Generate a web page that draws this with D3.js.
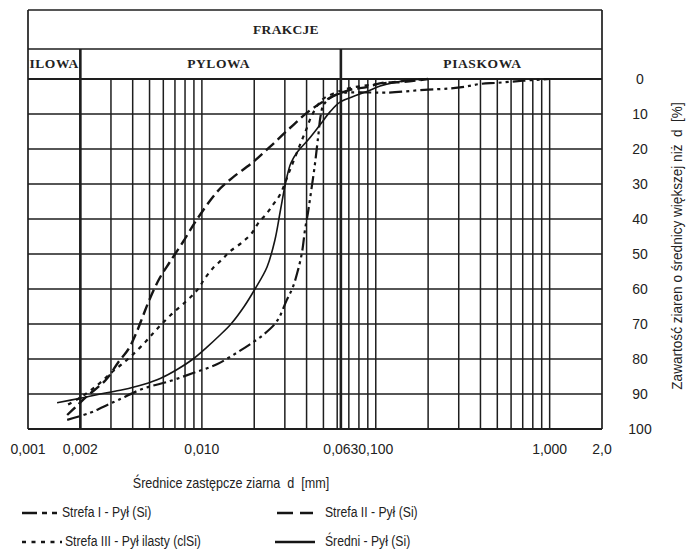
<!DOCTYPE html>
<html><head><meta charset="utf-8">
<script src="https://cdn.jsdelivr.net/npm/d3@7"></script>
<style>
html,body{margin:0;padding:0;background:#fff;}
svg{display:block;}
text{white-space:pre;}
</style></head>
<body>
<svg id="chart" width="688" height="555"></svg>
<script>
// ---------- data ----------
const fractionNames = ["ILOWA", "PYLOWA", "PIASKOWA"];
const fractionBounds = [0.001, 0.002, 0.063, 2.0];
const headerTitle = "FRAKCJE";
const xTickValues = [0.001, 0.002, 0.010, 0.063, 0.100, 1.000, 2.0];
const xTickLabels = ["0,001", "0,002", "0,010", "0,063", "0,100", "1,000", "2,0"];
const yTickValues = [0, 10, 20, 30, 40, 50, 60, 70, 80, 90, 100];
const xTitle = "Średnice zastępcze ziarna  d  [mm]";
const yTitle = "Zawartość ziaren o średnicy większej niż  d  [%]";
const seriesNames = ["Strefa I - Pył (Si)", "Strefa II - Pył (Si)", "Strefa III - Pył ilasty (clSi)", "Średni - Pył (Si)"];

const strefaI_d = [0.00168,0.00227,0.0027,0.0033,0.00458,0.00656,0.0089,0.0122,0.0166,0.0189,0.0224,0.027,0.0308,0.0334,0.0357,0.0376,0.0392,0.0408,0.0425,0.0445,0.046,0.047,0.048,0.050,0.056,0.065,0.08,0.116,0.19,0.266,0.325,0.4,0.5,0.7,1.0];
const strefaI_p = [97.4,95.4,93.7,91.7,88.5,86.3,84,81.5,77.6,75.8,73.2,69.2,63.1,59.4,54.6,49.7,43,38,32,25,19,15,11,7.5,5,4,3.8,3.9,3.1,2.7,2.2,1.4,1.1,0.5,0];

const strefaII_d = [0.00168,0.0019,0.0022,0.0028,0.0033,0.0038,0.0042,0.0046,0.005,0.0057,0.0065,0.0078,0.0094,0.0122,0.0149,0.0194,0.0246,0.0321,0.042,0.0545,0.071,0.089,0.109,0.138,0.2];
const strefaII_p = [96,93.5,90.5,86,81,77,72.5,67.5,63,57,52.5,46.5,40,32.3,28.3,24,19.4,14,8.9,5.4,3.1,2.3,1.1,0.9,0];

const strefaIII_d = [0.0017,0.002,0.0025,0.003,0.0035,0.004,0.0048,0.0055,0.0066,0.0082,0.0094,0.0104,0.0116,0.0131,0.0145,0.017,0.0194,0.021,0.0237,0.0256,0.0281,0.0321,0.0366,0.0397,0.043,0.049,0.058,0.071,0.093,0.15,0.2];
const strefaIII_p = [93,91,87.5,84,81.3,78.8,74.8,71.5,67.5,63.3,60.3,57,54,51.5,49.3,46.7,44,41.3,38.3,36,33.1,26,18.9,14.6,10.3,6,4,2.6,1.7,0.5,0];

const sredni_d = [0.00147,0.002,0.0026,0.0035,0.0046,0.0058,0.0072,0.0089,0.0107,0.0125,0.0147,0.0175,0.0202,0.0237,0.0263,0.0283,0.0305,0.0325,0.0355,0.041,0.0478,0.0545,0.0623,0.078,0.0927,0.106,0.132,0.157,0.2];
const sredni_p = [92.5,91.2,90,88.8,87.3,85.5,83,80,76.6,73.5,70,65,60,53.7,46,37.5,29,24,20.8,17.3,13.1,9.4,6.6,4.6,3.2,2,0.9,0.3,0];

// ---------- layout ----------
const W = 688, H = 555;
const left = 28, right = 602, frameTop = 10, row1 = 49, plotTop = 79, plotBottom = 429;
const ink = "#1e1e1e";
const svg = d3.select("#chart");
svg.append("rect").attr("width", W).attr("height", H).attr("fill", "#fff");

const x = d3.scaleLog().domain([0.001, 2.0]).range([left, right]);
const y = d3.scaleLinear().domain([0, 100]).range([plotTop, plotBottom]);

const g = svg.append("g");

// vertical grid (log minor lines from 0.002 to 1.0)
const vGrid = x.ticks().filter(v => v >= 0.0019 && v <= 1.0001);
g.selectAll("line.vg").data(vGrid).enter().append("line")
  .attr("x1", d => x(d)).attr("x2", d => x(d))
  .attr("y1", plotTop).attr("y2", plotBottom)
  .attr("stroke", ink).attr("stroke-width", 1.5);

// fraction boundary lines (thick)
const inner = fractionBounds.slice(1, -1);
g.selectAll("line.fb").data(inner).enter().append("line")
  .attr("x1", d => x(d)).attr("x2", d => x(d))
  .attr("y1", row1).attr("y2", plotBottom)
  .attr("stroke", ink).attr("stroke-width", 2.6);

// horizontal grid
g.selectAll("line.hg").data(yTickValues).enter().append("line")
  .attr("x1", left).attr("x2", right)
  .attr("y1", d => y(d)).attr("y2", d => y(d))
  .attr("stroke", ink).attr("stroke-width", d => (d === 0 || d === 100) ? 2.2 : 1.6);

// header lines
[frameTop, row1].forEach(yy => {
  g.append("line").attr("x1", left).attr("x2", right).attr("y1", yy).attr("y2", yy)
    .attr("stroke", ink).attr("stroke-width", 1.5);
});
g.append("line").attr("x1", left).attr("x2", left).attr("y1", frameTop).attr("y2", plotBottom)
  .attr("stroke", ink).attr("stroke-width", 1.7);
g.append("line").attr("x1", right).attr("x2", right).attr("y1", frameTop).attr("y2", plotBottom)
  .attr("stroke", ink).attr("stroke-width", 1.7);

// header texts
const serif = "'Liberation Serif','Times New Roman',serif";
svg.append("text").attr("x", 286).attr("y", (frameTop + row1) / 2 + 1)
  .attr("text-anchor", "middle").attr("dominant-baseline", "middle")
  .attr("font-family", serif).attr("font-weight", "bold").attr("font-size", 13.5)
  .attr("letter-spacing", 0.3)
  .attr("fill", "#222").text(headerTitle);
const fracDx = [0, 8, 11];
svg.selectAll("text.fr").data(fractionNames).enter().append("text")
  .attr("x", (d, i) => (x(fractionBounds[i]) + x(fractionBounds[i + 1])) / 2 + fracDx[i])
  .attr("y", (row1 + plotTop) / 2 + 1)
  .attr("text-anchor", "middle").attr("dominant-baseline", "middle")
  .attr("font-family", serif).attr("font-weight", "bold").attr("font-size", 13.5)
  .attr("letter-spacing", 0.6)
  .attr("fill", "#222").text(d => d);

// ---------- curves ----------
const series = [
  { d: strefaI_d, p: strefaI_p, dash: "13,4,3,4,3,4", w: 2.2 },
  { d: strefaII_d, p: strefaII_p, dash: "11,5", w: 2.4 },
  { d: strefaIII_d, p: strefaIII_p, dash: "4,5", w: 2.2 },
  { d: sredni_d, p: sredni_p, dash: null, w: 1.6 }
];
const line = d3.line().x(v => x(v[0])).y(v => y(v[1])).curve(d3.curveCatmullRom.alpha(0.5));
series.forEach(s => {
  const pts = s.d.map((dv, i) => [dv, s.p[i]]);
  svg.append("path").attr("d", line(pts)).attr("fill", "none")
    .attr("stroke", "#151515").attr("stroke-width", s.w)
    .attr("stroke-dasharray", s.dash);
});

// ---------- axes labels ----------
const sans = "'Liberation Sans',Arial,sans-serif";
svg.selectAll("text.xt").data(xTickValues).enter().append("text")
  .attr("x", d => x(d)).attr("y", 450)
  .attr("text-anchor", "middle").attr("dominant-baseline", "middle")
  .attr("font-family", sans).attr("font-size", 14).attr("fill", "#222")
  .text((d, i) => xTickLabels[i]);

svg.selectAll("text.yt").data(yTickValues).enter().append("text")
  .attr("x", 640).attr("y", d => y(d) + 1)
  .attr("text-anchor", "middle").attr("dominant-baseline", "middle")
  .attr("font-family", sans).attr("font-size", 14).attr("fill", "#222")
  .text(d => d);

svg.append("text").attr("transform", "translate(678,246) rotate(-90) scale(0.97,1)")
  .attr("text-anchor", "middle").attr("dominant-baseline", "middle")
  .attr("font-family", sans).attr("font-size", 14).attr("fill", "#222")
  .text(yTitle);

svg.append("text").attr("transform", "translate(231,484) scale(0.9,1)")
  .attr("text-anchor", "middle").attr("dominant-baseline", "middle")
  .attr("font-family", sans).attr("font-size", 14).attr("fill", "#222")
  .text(xTitle);

// ---------- legend ----------
const legPos = [[22, 513], [277, 513], [22, 542], [275, 542]];
const legLen = [36, 36, 40, 40];
const legTextX = [62, 325, 65, 325];
const legDash = ["15,5,5,5,5,5", "16,7", "4,5.5", null];
series.forEach((s, i) => {
  svg.append("line").attr("x1", legPos[i][0]).attr("x2", legPos[i][0] + legLen[i])
    .attr("y1", legPos[i][1]).attr("y2", legPos[i][1])
    .attr("stroke", "#151515").attr("stroke-width", 2.4)
    .attr("stroke-dasharray", legDash[i]);
  svg.append("text").attr("transform", `translate(${legTextX[i]},${legPos[i][1]}) scale(0.87,1)`)
    .attr("dominant-baseline", "middle")
    .attr("font-family", sans).attr("font-size", 14).attr("fill", "#222")
    .text(seriesNames[i]);
});
</script>
</body></html>
